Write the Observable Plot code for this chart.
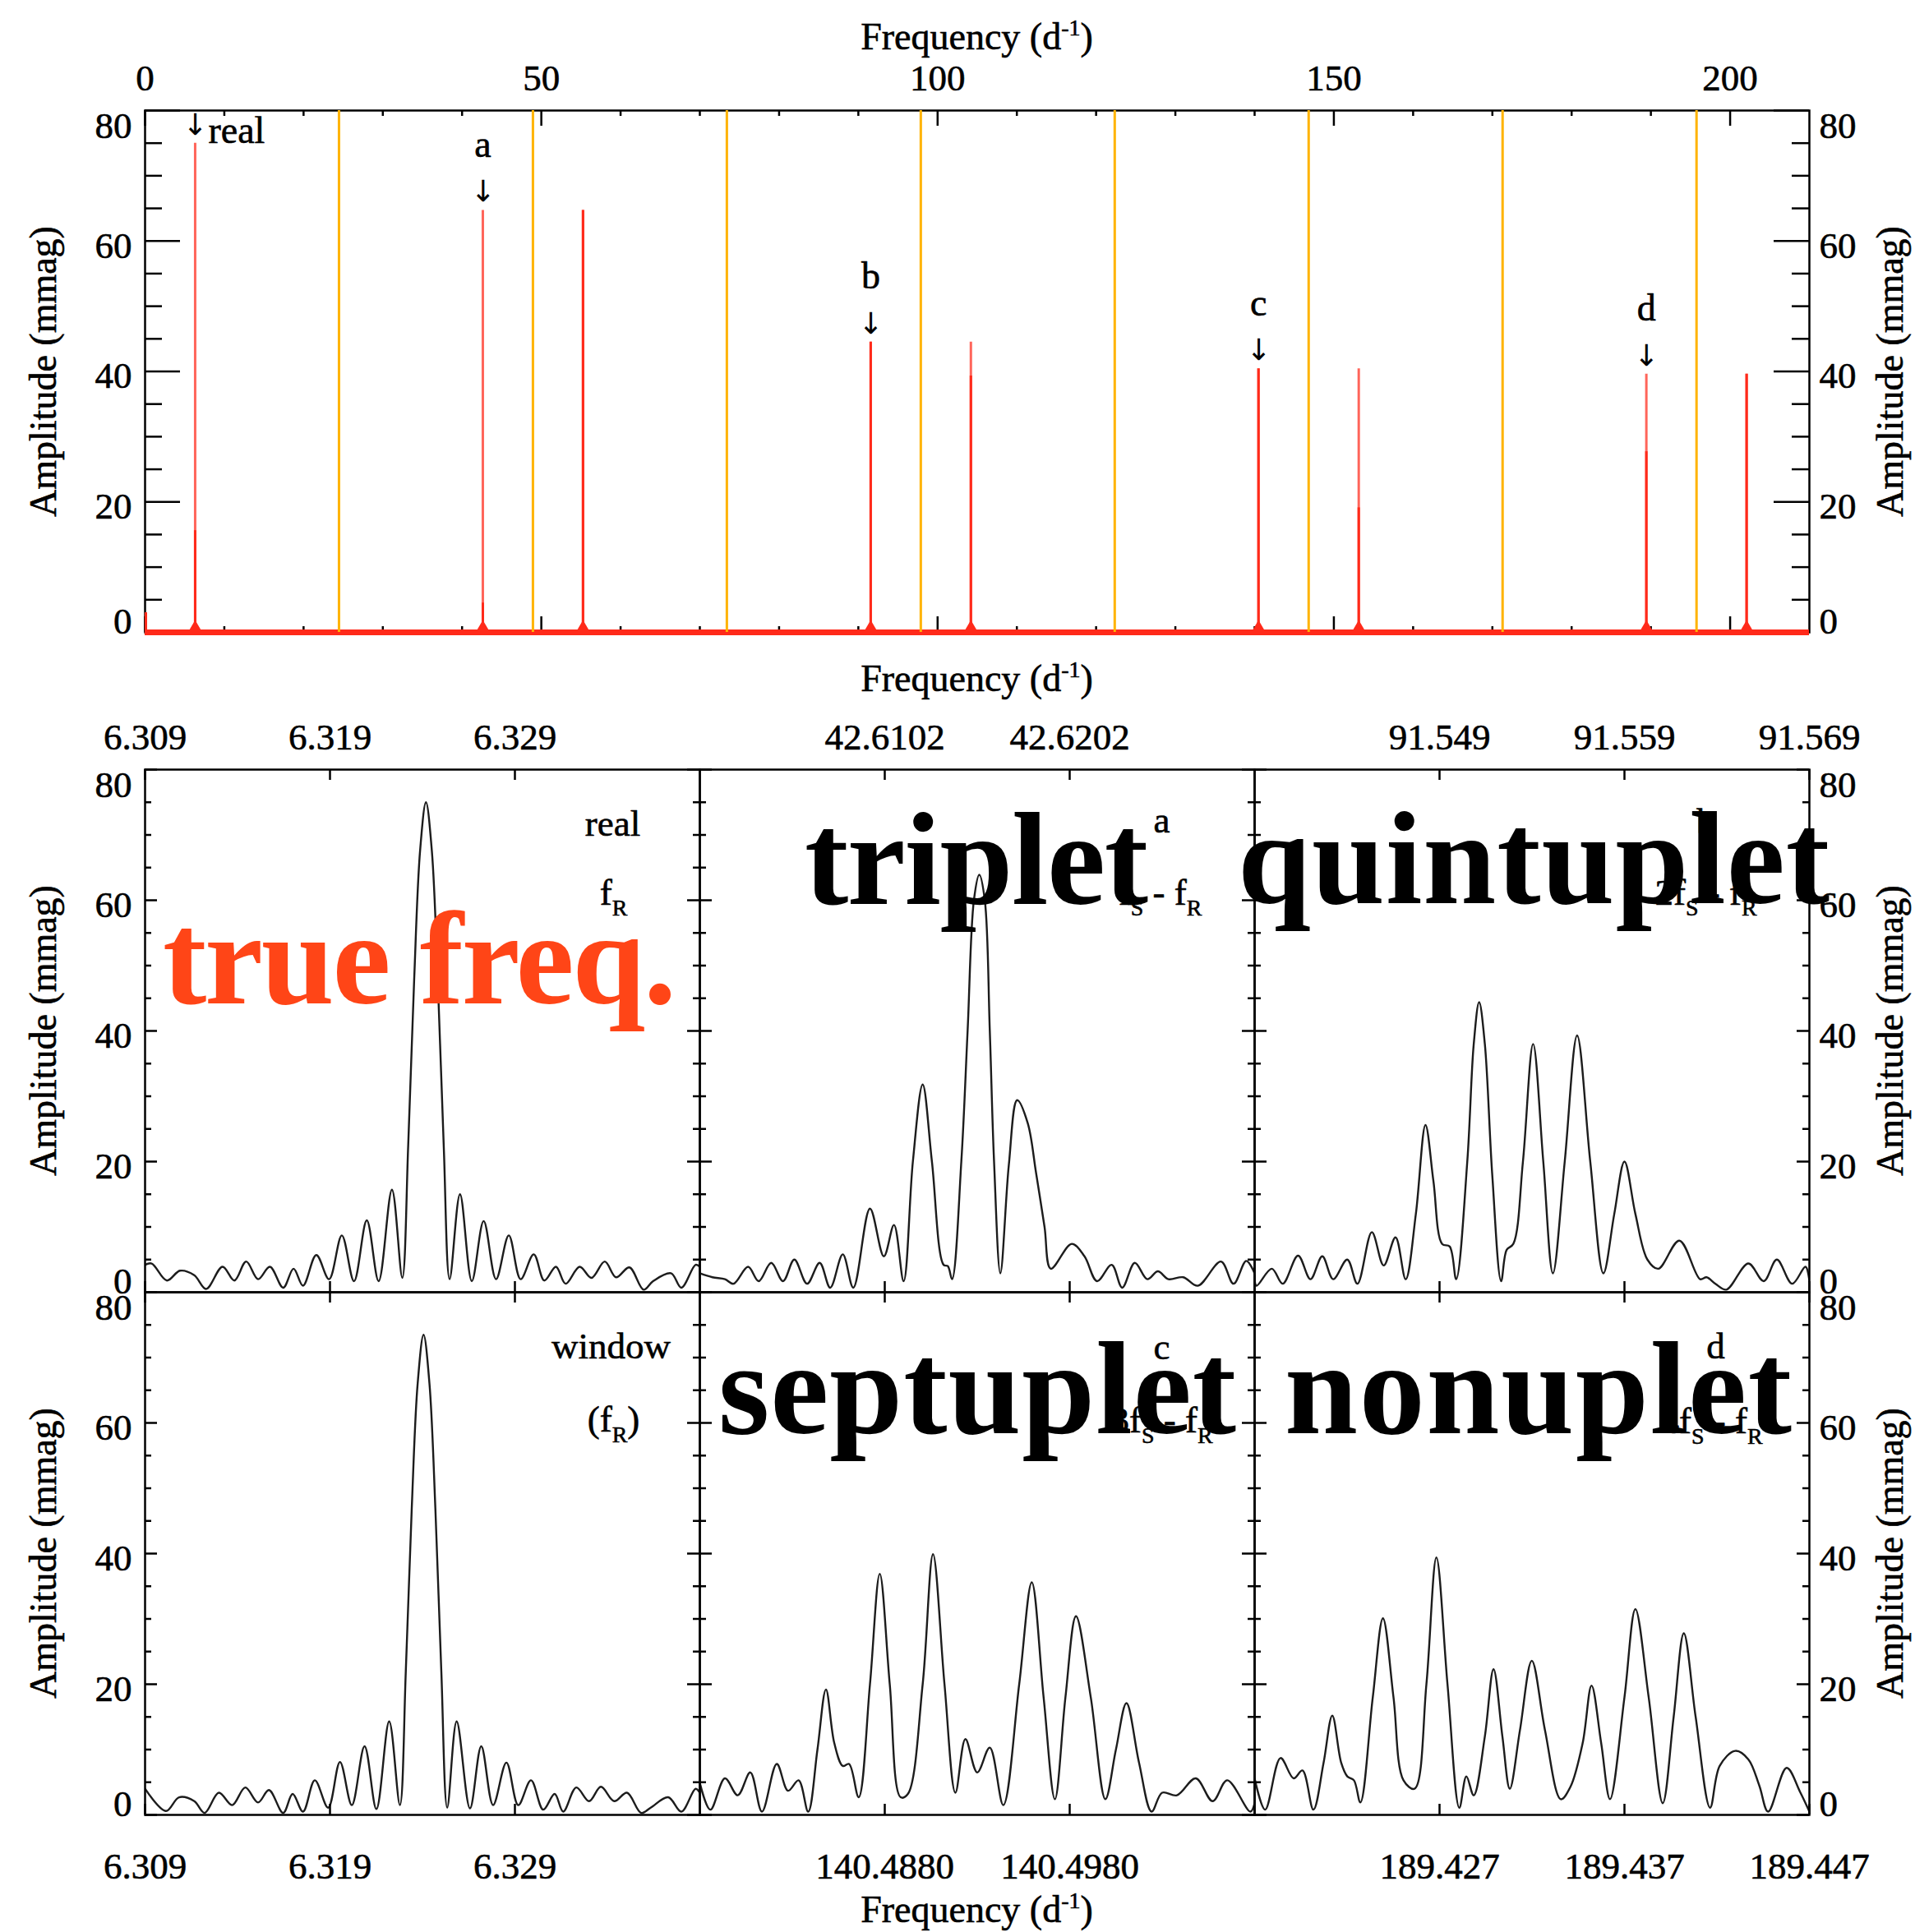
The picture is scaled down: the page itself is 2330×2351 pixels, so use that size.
<!DOCTYPE html>
<html>
<head>
<meta charset="utf-8">
<script src="https://cdn.jsdelivr.net/npm/d3@7"></script>
<script src="https://cdn.jsdelivr.net/npm/@observablehq/plot@0.6"></script>
<style>
  html, body { margin: 0; padding: 0; background: #fff; }
  #figure { position: relative; width: 2330px; height: 2351px; background: #fff; overflow: hidden; }
</style>
</head>
<body>
<div id="figure"></div>
<script>
// ---------- Wide amplitude spectrum, 0–210 d^-1 ----------
const nyquistMultiples = [24.47, 48.94, 73.41, 97.88, 122.35, 146.82, 171.29, 195.76];
const peakFreq  = [0.1, 6.32, 42.62, 55.26, 91.56, 104.20, 140.49, 153.14, 189.43, 202.08];
const peakAmp   = [3.0, 75.0, 64.7, 64.7, 44.5, 44.5, 40.4, 40.4, 39.6, 39.6];
const peakCore  = [3.0, 15.6, 4.5, 64.7, 44.5, 39.3, 40.4, 19.1, 27.7, 39.6];
const peakLabel = ["", "real", "a", "", "b", "", "c", "", "d", ""];
const wideMajorTicks = [0, 50, 100, 150, 200];
const wideMinorTicks = [10, 20, 30, 40, 60, 70, 80, 90, 110, 120, 130, 140, 160, 170, 180, 190];

// ---------- Amplitude axis ----------
const ampMajorTicks = [0, 20, 40, 60, 80];
const ampMinorTicks = [5, 10, 15, 25, 30, 35, 45, 50, 55, 65, 70, 75];

// ---------- Zoomed spectra around each alias ----------
// real f_R
const realFreq = [6.30900, 6.30936, 6.31018, 6.31089, 6.31166, 6.31230, 6.31319, 6.31383, 6.31447, 6.31511, 6.31575, 6.31647, 6.31703, 6.31754, 6.31826, 6.31895, 6.31964, 6.32030, 6.32099, 6.32163, 6.32235, 6.32291, 6.32323, 6.32355, 6.32387, 6.32419, 6.32451, 6.32483, 6.32515, 6.32547, 6.32603, 6.32667, 6.32731, 6.32798, 6.32867, 6.32931, 6.33002, 6.33059, 6.33122, 6.33174, 6.33250, 6.33314, 6.33386, 6.33447, 6.33519, 6.33596, 6.33647, 6.33744, 6.33800, 6.33877, 6.33900];
const realAmp  = [4.2, 4.4, 1.8, 3.3, 2.6, 0.5, 3.9, 1.8, 4.7, 2.0, 3.9, 0.7, 3.6, 1.0, 5.7, 2.0, 8.7, 1.7, 11.0, 1.7, 15.7, 2.2, 22.5, 47.7, 67.5, 75.0, 67.5, 47.7, 22.5, 2.0, 15.0, 1.7, 10.9, 2.0, 8.7, 2.0, 5.8, 1.8, 3.9, 1.3, 3.9, 2.2, 4.7, 2.3, 3.8, 0.4, 1.7, 2.9, 0.7, 4.2, 3.9];
const realTicks = ["6.309", "6.319", "6.329"];

// spectral window at f_R
const windowFreq = [6.30900, 6.31013, 6.31084, 6.31166, 6.31222, 6.31299, 6.31371, 6.31442, 6.31511, 6.31570, 6.31647, 6.31698, 6.31754, 6.31818, 6.31890, 6.31954, 6.32018, 6.32087, 6.32151, 6.32220, 6.32278, 6.32310, 6.32342, 6.32374, 6.32406, 6.32438, 6.32470, 6.32502, 6.32534, 6.32585, 6.32657, 6.32718, 6.32782, 6.32854, 6.32918, 6.32987, 6.33053, 6.33115, 6.33161, 6.33232, 6.33301, 6.33365, 6.33437, 6.33506, 6.33583, 6.33634, 6.33729, 6.33800, 6.33877, 6.33900];
const windowAmp  = [4.0, 0.6, 2.7, 2.1, 0.3, 3.4, 1.5, 4.2, 1.9, 3.8, 0.3, 3.2, 0.5, 5.3, 1.1, 8.1, 1.5, 10.5, 0.9, 14.3, 1.5, 22.0, 46.8, 66.0, 73.5, 66.0, 46.8, 22.0, 1.1, 14.3, 1.0, 10.5, 1.5, 8.0, 1.5, 5.3, 0.8, 3.2, 0.5, 4.2, 2.1, 4.3, 2.1, 3.4, 0.3, 1.1, 2.7, 0.5, 4.0, 3.4];
const windowTicks = ["6.309", "6.319", "6.329"];

// alias a = f_S - f_R (triplet)
const tripletFreq = [42.60020, 42.60088, 42.60156, 42.60202, 42.60281, 42.60338, 42.60406, 42.60470, 42.60531, 42.60600, 42.60668, 42.60725, 42.60793, 42.60850, 42.60940, 42.61015, 42.61070, 42.61122, 42.61172, 42.61225, 42.61275, 42.61338, 42.61361, 42.61384, 42.61434, 42.61468, 42.61502, 42.61531, 42.61561, 42.61588, 42.61611, 42.61645, 42.61691, 42.61736, 42.61793, 42.61838, 42.61884, 42.61918, 42.62031, 42.62100, 42.62168, 42.62247, 42.62304, 42.62372, 42.62440, 42.62497, 42.62554, 42.62634, 42.62713, 42.62838, 42.62906, 42.62975, 42.63020];
const tripletAmp  = [2.9, 2.3, 2.0, 1.3, 3.9, 1.7, 4.5, 1.7, 5.0, 1.3, 4.5, 0.7, 5.8, 0.7, 12.8, 5.5, 10.3, 1.7, 20.0, 31.8, 20.0, 4.2, 4.0, 2.0, 20.0, 40.0, 60.0, 63.9, 60.0, 40.0, 20.0, 2.9, 19.5, 29.4, 25.9, 18.3, 10.0, 3.6, 7.4, 5.5, 1.7, 4.2, 0.7, 4.5, 2.0, 3.2, 2.0, 2.3, 1.0, 4.7, 1.3, 4.8, 2.9];
const tripletTicks = ["42.6102", "42.6202"];

// alias b = 2f_S - f_R (quintuplet)
const quintFreq = [91.53900, 91.53910, 91.53993, 91.54052, 91.54135, 91.54202, 91.54266, 91.54325, 91.54401, 91.54456, 91.54534, 91.54598, 91.54662, 91.54717, 91.54772, 91.54824, 91.54867, 91.54914, 91.54955, 91.54990, 91.55050, 91.55085, 91.55114, 91.55145, 91.55185, 91.55233, 91.55263, 91.55299, 91.55351, 91.55406, 91.55461, 91.55513, 91.55577, 91.55644, 91.55715, 91.55786, 91.55845, 91.55900, 91.55959, 91.56024, 91.56083, 91.56197, 91.56309, 91.56344, 91.56392, 91.56451, 91.56570, 91.56653, 91.56724, 91.56807, 91.56879, 91.56900];
const quintAmp  = [2.6, 1.0, 3.6, 1.3, 5.6, 2.0, 5.5, 2.0, 5.0, 1.3, 9.2, 4.1, 8.4, 2.0, 12.0, 25.6, 17.0, 7.4, 7.0, 2.0, 20.0, 38.0, 44.4, 38.0, 18.0, 1.7, 6.5, 7.4, 20.0, 38.0, 20.0, 2.9, 20.0, 39.3, 20.0, 2.9, 12.0, 20.0, 12.0, 5.0, 3.6, 7.9, 2.0, 2.3, 1.3, 0.4, 4.4, 1.7, 5.0, 1.3, 3.9, 1.7];
const quintTicks = ["91.549", "91.559", "91.569"];

// alias c = 3f_S - f_R (septuplet)
const septFreq = [140.47800, 140.47857, 140.47936, 140.48005, 140.48073, 140.48136, 140.48216, 140.48277, 140.48334, 140.48386, 140.48436, 140.48482, 140.48527, 140.48573, 140.48607, 140.48659, 140.48720, 140.48773, 140.48827, 140.48886, 140.48925, 140.49005, 140.49061, 140.49123, 140.49182, 140.49236, 140.49300, 140.49368, 140.49441, 140.49527, 140.49595, 140.49659, 140.49720, 140.49777, 140.49834, 140.49914, 140.49993, 140.50050, 140.50107, 140.50175, 140.50243, 140.50300, 140.50380, 140.50482, 140.50573, 140.50652, 140.50777, 140.50800];
const septAmp  = [4.9, 0.8, 5.6, 3.0, 6.5, 0.5, 7.8, 3.7, 5.3, 0.5, 10.0, 19.2, 11.0, 7.5, 7.8, 2.7, 20.0, 36.9, 20.0, 2.7, 3.2, 20.0, 39.9, 20.0, 3.4, 11.6, 6.5, 10.3, 1.5, 20.0, 35.6, 18.0, 2.4, 18.0, 30.4, 18.0, 2.4, 10.0, 17.1, 8.0, 0.5, 3.4, 3.0, 5.6, 2.1, 5.3, 0.5, 1.8];
const septTicks = ["140.4880", "140.4980"];

// alias d = 4f_S - f_R (nonuplet)
const nonFreq = [189.41700, 189.41757, 189.41840, 189.41911, 189.41959, 189.42018, 189.42073, 189.42120, 189.42168, 189.42201, 189.42237, 189.42272, 189.42339, 189.42394, 189.42451, 189.42505, 189.42565, 189.42629, 189.42683, 189.42743, 189.42807, 189.42845, 189.42885, 189.42945, 189.42992, 189.43040, 189.43080, 189.43135, 189.43199, 189.43270, 189.43356, 189.43408, 189.43474, 189.43522, 189.43574, 189.43622, 189.43700, 189.43759, 189.43831, 189.43907, 189.43966, 189.44021, 189.44085, 189.44163, 189.44215, 189.44299, 189.44370, 189.44429, 189.44477, 189.44577, 189.44650, 189.44700];
const nonAmp  = [5.6, 0.8, 8.7, 5.6, 6.8, 0.8, 8.0, 15.2, 8.0, 5.9, 5.3, 1.9, 18.0, 30.1, 18.0, 5.3, 4.0, 20.0, 39.4, 20.0, 1.1, 5.9, 3.0, 12.0, 22.3, 12.0, 4.0, 13.0, 23.6, 13.0, 2.4, 4.3, 11.0, 19.8, 11.0, 2.4, 18.0, 31.5, 18.0, 1.8, 15.0, 27.8, 15.0, 1.1, 7.5, 9.8, 8.5, 4.5, 0.5, 7.2, 3.5, 0.5];
const nonTicks = ["189.427", "189.437", "189.447"];

// ---------- Layout and style ----------
const FONT = "Liberation Serif";
const RED = "#ff2a1a";
const ORANGE = "#ffb300";
const INK = "#000";
const TICK_FONT = 45;
const INKED = {fill: INK, stroke: INK, strokeWidth: 0.6};   // slightly heavier serif type
const M = 90;                       // margin around every frame
const WIDE = {left: 176, top: 134, w: 2025, h: 635};
const COLS = [176, 851, 1526];
const ROWS = [936, 1572];
const PW = 675, PH = 636;

const fig = document.getElementById("figure");

function place(svg, left, top) {
  svg.style.position = "absolute";
  svg.style.left = left + "px";
  svg.style.top = top + "px";
  svg.style.background = "none";
  svg.style.overflow = "visible";
  fig.appendChild(svg);
}

// turn "f_S" style notation into real subscripts; keep the type solid
function finishText(svg, size) {
  d3.select(svg).selectAll("text").attr("paint-order", "normal");
  d3.select(svg).selectAll("text").each(function () {
    const raw = this.textContent;
    if (!raw.includes("_")) return;
    const parts = raw.split(/_(\w)/);
    const el = d3.select(this);
    el.text(null);
    const shift = size * 0.28;
    let lowered = false;
    parts.forEach((p, i) => {
      if (p === "") return;
      const ts = el.append("tspan").text(p);
      if (i % 2 === 1) { ts.attr("dy", shift).attr("font-size", size * 0.62); lowered = true; }
      else if (lowered) { ts.attr("dy", -shift); lowered = false; }
    });
  });
}

function yLabelMarks(side) {
  const left = side === "left";
  const common = {
    y: d => d, text: d => String(d), frameAnchor: left ? "left" : "right",
    dx: left ? -16 : 12, textAnchor: left ? "end" : "start",
    fontSize: TICK_FONT, lineAnchor: "middle", ...INKED
  };
  return [
    Plot.text(ampMajorTicks.filter(v => v > 0 && v < 80), {...common, dy: 6}),
    Plot.text(ampMajorTicks.filter(v => v === 80), {...common, dy: 19}),
    Plot.text(ampMajorTicks.filter(v => v === 0), {...common, dy: -13})
  ];
}

function yTickMarks(w, major, minor) {
  const s = {stroke: INK, strokeWidth: 2.5};
  return [
    Plot.tickY(ampMajorTicks, {y: d => d, insetRight: w - major, ...s}),
    Plot.tickY(ampMinorTicks, {y: d => d, insetRight: w - minor, ...s}),
    Plot.tickY(ampMajorTicks, {y: d => d, insetLeft: w - major, ...s}),
    Plot.tickY(ampMinorTicks, {y: d => d, insetLeft: w - minor, ...s})
  ];
}

// ---------- Wide spectrum ----------
{
  const peaks = peakFreq.map((f, i) => ({f, amp: peakAmp[i], core: peakCore[i], label: peakLabel[i]}));
  const s = {stroke: INK, strokeWidth: 2.5};
  const svg = Plot.plot({
    width: WIDE.w + 2 * M, height: WIDE.h + 2 * M, margin: M,
    x: {domain: [0, 210], axis: null},
    y: {domain: [0, 80], axis: null},
    style: {fontFamily: FONT, background: "none", overflow: "visible"},
    marks: [
      Plot.frame({stroke: INK, strokeWidth: 2.5}),
      Plot.tickX(wideMajorTicks, {x: d => d, insetBottom: WIDE.h - 19, ...s}),
      Plot.tickX(wideMinorTicks, {x: d => d, insetBottom: WIDE.h - 7, ...s}),
      Plot.tickX(wideMajorTicks, {x: d => d, insetTop: WIDE.h - 19, ...s}),
      Plot.tickX(wideMinorTicks, {x: d => d, insetTop: WIDE.h - 7, ...s}),
      ...yTickMarks(WIDE.w, 43, 21),
      Plot.ruleX(peaks, {x: "f", y1: 0, y2: "amp", stroke: RED, strokeOpacity: 0.72, strokeWidth: 3}),
      Plot.ruleX(peaks, {x: "f", y1: 0, y2: "core", stroke: RED, strokeWidth: 3}),
      Plot.dot(peaks.filter(d => d.amp > 10), {x: "f", y: () => 0, symbol: "triangle", r: 6.5, fill: RED, stroke: "none", dy: -5}),
      Plot.ruleY([0], {stroke: RED, strokeWidth: 7}),
      Plot.ruleX(nyquistMultiples, {stroke: ORANGE, strokeWidth: 3}),
      Plot.text(wideMajorTicks, {x: d => d, text: d => String(d), frameAnchor: "top", dy: -39, fontSize: TICK_FONT, lineAnchor: "middle", ...INKED}),
      ...yLabelMarks("left"),
      ...yLabelMarks("right"),
      Plot.text(peaks.filter(d => d.label), {x: "f", y: "amp", text: () => "\u2193", dy: -22, fontSize: 36, fontFamily: "DejaVu Sans", lineAnchor: "middle", fill: INK}),
      Plot.text(peaks.filter(d => d.label && d.label !== "real"), {x: "f", y: "amp", text: "label", dy: -80, fontSize: 46, lineAnchor: "middle", ...INKED}),
      Plot.text(peaks.filter(d => d.label === "real"), {x: "f", y: "amp", text: "label", dx: 16, dy: -15, textAnchor: "start", fontSize: 46, lineAnchor: "middle", ...INKED})
    ]
  });
  finishText(svg, 46);
  place(svg, WIDE.left - M, WIDE.top - M);
}

// ---------- Zoomed panels ----------
function spectrumPanel({freq, amp, domain, ticks, tickSide, ySide, notes, noteDx, noteDy, col, row}) {
  const rows = freq.map((f, i) => ({f, a: amp[i]}));
  const s = {stroke: INK, strokeWidth: 2.5};
  const marks = [
    Plot.line(rows, {x: "f", y: "a", curve: "catmull-rom", stroke: "#1c1c1c", strokeWidth: 2.4, clip: true}),
    Plot.frame({stroke: INK, strokeWidth: 2.5}),
    Plot.tickX(ticks, {x: d => +d, insetBottom: PH - 13, ...s}),
    Plot.tickX(ticks, {x: d => +d, insetTop: PH - 13, ...s}),
    ...yTickMarks(PW, 15, 8),
    Plot.text(ticks, {x: d => +d, text: d => d, frameAnchor: tickSide, dy: tickSide === "top" ? -39 : 63, fontSize: TICK_FONT, lineAnchor: "middle", ...INKED}),
    ...(ySide ? yLabelMarks(ySide) : []),
    ...notes.map((t, i) => Plot.text([t], {text: d => d, frameAnchor: "top-right", dx: noteDx[i], dy: noteDy[i], fontSize: 45, textAnchor: "middle", lineAnchor: "middle", ...INKED}))
  ];
  const svg = Plot.plot({
    width: PW + 2 * M, height: PH + 2 * M, margin: M,
    x: {domain, axis: null},
    y: {domain: [0, 80], axis: null},
    style: {fontFamily: FONT, background: "none", overflow: "visible"},
    marks
  });
  finishText(svg, 45);
  place(svg, COLS[col] - M, ROWS[row] - M);
}

spectrumPanel({freq: realFreq, amp: realAmp, domain: [6.309, 6.339], ticks: realTicks, tickSide: "top", ySide: "left",
  notes: ["real", "f_R"], noteDx: [-106, -105], noteDy: [66, 150], col: 0, row: 0});
spectrumPanel({freq: tripletFreq, amp: tripletAmp, domain: [42.6002, 42.6302], ticks: tripletTicks, tickSide: "top", ySide: null,
  notes: ["a", "f_S - f_R"], noteDx: [-113, -115], noteDy: [62, 150], col: 1, row: 0});
spectrumPanel({freq: quintFreq, amp: quintAmp, domain: [91.539, 91.569], ticks: quintTicks, tickSide: "top", ySide: "right",
  notes: ["b", "2f_S - f_R"], noteDx: [-126, -126], noteDy: [64, 150], col: 2, row: 0});
spectrumPanel({freq: windowFreq, amp: windowAmp, domain: [6.309, 6.339], ticks: windowTicks, tickSide: "bottom", ySide: "left",
  notes: ["window", "(f_R)"], noteDx: [-108, -105], noteDy: [66, 155], col: 0, row: 1});
spectrumPanel({freq: septFreq, amp: septAmp, domain: [140.478, 140.508], ticks: septTicks, tickSide: "bottom", ySide: null,
  notes: ["c", "3f_S - f_R"], noteDx: [-113, -113], noteDy: [67, 156], col: 1, row: 1});
spectrumPanel({freq: nonFreq, amp: nonAmp, domain: [189.417, 189.447], ticks: nonTicks, tickSide: "bottom", ySide: "right",
  notes: ["d", "4f_S - f_R"], noteDx: [-114, -119], noteDy: [66, 157], col: 2, row: 1});

// ---------- Axis titles and overlaid captions ----------
{
  const ov = d3.create("svg")
    .attr("width", 2330).attr("height", 2351)
    .attr("font-family", FONT)
    .style("position", "absolute").style("left", "0px").style("top", "0px")
    .style("overflow", "visible").style("pointer-events", "none");

  const titles = ov.append("g").attr("fill", "#000").attr("stroke", "#000").attr("stroke-width", 0.6);

  for (const base of [60, 841, 2339]) {
    const t = titles.append("text").attr("x", 1188.5).attr("y", base)
      .attr("text-anchor", "middle").attr("font-size", 46);
    t.append("tspan").text("Frequency (d");
    t.append("tspan").attr("dy", -17).attr("font-size", 28).text("-1");
    t.append("tspan").attr("dy", 17).text(")");
  }

  for (const cy of [452, 1254, 1890]) {
    for (const bx of [68, 2315]) {
      titles.append("text")
        .attr("transform", `translate(${bx},${cy}) rotate(-90)`)
        .attr("text-anchor", "middle").attr("font-size", 46)
        .text("Amplitude (mmag)");
    }
  }

  const captions = [
    {text: "true freq.", x: 198, y: 1221, w: 625, color: "#ff4517"},
    {text: "triplet", x: 979, y: 1100, w: 418, color: "#000"},
    {text: "quintuplet", x: 1506, y: 1099, w: 720, color: "#000"},
    {text: "septuplet", x: 874, y: 1744, w: 630, color: "#000"},
    {text: "nonuplet", x: 1563, y: 1744, w: 617, color: "#000"}
  ];
  for (const c of captions) {
    ov.append("text")
      .attr("x", c.x).attr("y", c.y)
      .attr("font-size", 160).attr("font-weight", 700)
      .attr("fill", c.color)
      .attr("textLength", c.w).attr("lengthAdjust", "spacing")
      .text(c.text);
  }
  fig.appendChild(ov.node());
}
</script>
</body>
</html>
